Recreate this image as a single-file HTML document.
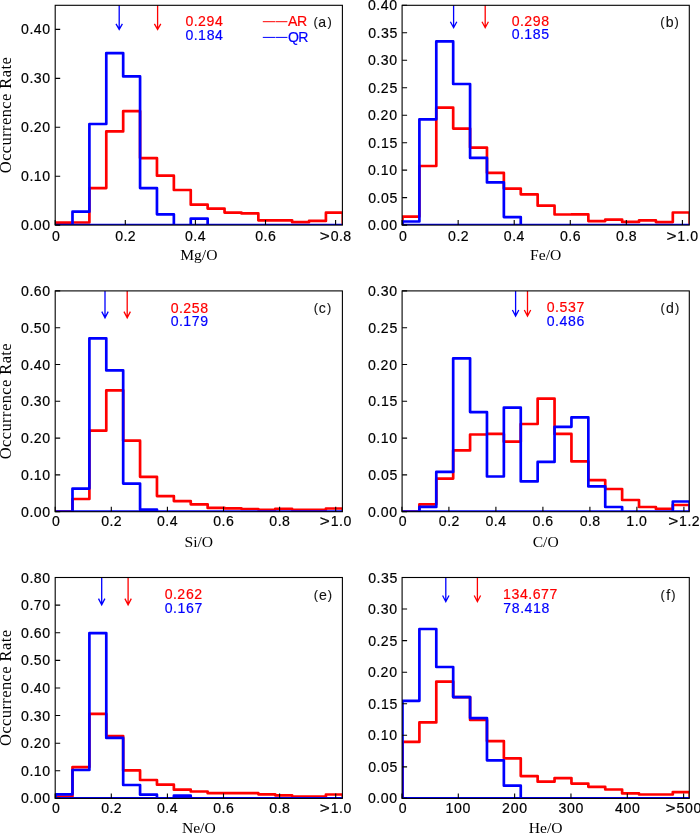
<!DOCTYPE html>
<html><head><meta charset="utf-8"><style>
html,body{margin:0;padding:0;background:#fff;width:700px;height:835px;overflow:hidden}
svg{display:block;will-change:transform}
text{font-family:"Liberation Sans",sans-serif}
.s{font-family:"Liberation Serif",serif}
</style></head><body>
<svg width="700" height="835" viewBox="0 0 700 835">
<rect x="0" y="0" width="700" height="835" fill="#fff"/>
<clipPath id="ca"><rect x="55.2" y="5.3" width="287.2" height="219.8"/></clipPath>
<g clip-path="url(#ca)" fill="none" stroke-width="2.7" stroke-linejoin="round">
<path d="M55.6,225.1 L55.6,222.7 L72.49,222.7 L72.49,222.5 L89.39,222.5 L89.39,188.1 L106.28,188.1 L106.28,131.4 L123.18,131.4 L123.18,111.1 L140.07,111.1 L140.07,158.1 L156.96,158.1 L156.96,175.7 L173.86,175.7 L173.86,190 L190.75,190 L190.75,204.7 L207.65,204.7 L207.65,208.6 L224.54,208.6 L224.54,212.6 L241.44,212.6 L241.44,213.4 L258.33,213.4 L258.33,220.3 L275.22,220.3 L275.22,220.3 L292.12,220.3 L292.12,222.2 L309.01,222.2 L309.01,220.9 L325.91,220.9 L325.91,212.7 L342.8,212.7 L342.8,225.1" stroke="#ff0000"/>
<path d="M55.6,225.1 L55.6,225.1 L72.49,225.1 L72.49,211.7 L89.39,211.7 L89.39,124 L106.28,124 L106.28,53.1 L123.18,53.1 L123.18,76.4 L140.07,76.4 L140.07,188.1 L156.96,188.1 L156.96,214.3 L173.86,214.3 L173.86,225.1 L190.75,225.1 L190.75,218.6 L207.65,218.6 L207.65,225.1 L224.54,225.1 L224.54,225.1 L241.44,225.1 L241.44,225.1 L258.33,225.1 L258.33,225.1 L275.22,225.1 L275.22,225.1 L292.12,225.1 L292.12,225.1 L309.01,225.1 L309.01,225.1 L325.91,225.1 L325.91,225.1 L342.8,225.1 L342.8,225.1 Z" stroke="#0000ff"/>
</g>
<path d="M119.2,5.3 V29.4 M116,23.9 L119.2,29.4 L122.4,23.9" stroke="#0000ff" stroke-width="1.3" fill="none"/>
<path d="M157.6,5.3 V29.4 M154.4,23.9 L157.6,29.4 L160.8,23.9" stroke="#ff0000" stroke-width="1.3" fill="none"/>
<rect x="55.2" y="5.3" width="287.2" height="219.8" fill="none" stroke="#000" stroke-width="1.1"/>
<path d="M55.2,225.1 V220.1 M125.3,225.1 V220.1 M195.4,225.1 V220.1 M265.5,225.1 V220.1 M335.6,225.1 V220.1 M55.2,225.1 H60.2 M55.2,176.18 H60.2 M55.2,127.26 H60.2 M55.2,78.34 H60.2 M55.2,29.42 H60.2" stroke="#000" stroke-width="1.1" fill="none"/>
<text x="52.08" y="241" font-size="14.1" fill="#000" stroke="#000" stroke-width="0.18">0</text>
<text x="115.24 123.56 127.79" y="241" font-size="14.1" fill="#000" stroke="#000" stroke-width="0.18">0.2</text>
<text x="185.05 193.37 197.77" y="241" font-size="14.1" fill="#000" stroke="#000" stroke-width="0.18">0.4</text>
<text x="255.2 263.52 267.92" y="241" font-size="14.1" fill="#000" stroke="#000" stroke-width="0.18">0.6</text>
<text x="330.65 338.97 343.37" y="241" font-size="14.1" fill="#000" stroke="#000" stroke-width="0.18">0.8</text><text transform="translate(319.72,241) scale(1.22,1)" x="0" y="0" font-size="14.1" fill="#000" stroke="#000" stroke-width="0.18">&gt;</text>
<text x="21.12 29.44 33.84 42.32" y="230.1" font-size="14.1" fill="#000" stroke="#000" stroke-width="0.18">0.00</text>
<text x="21.12 29.44 33.76 42.32" y="181.18" font-size="14.1" fill="#000" stroke="#000" stroke-width="0.18">0.10</text>
<text x="21.12 29.44 33.66 42.32" y="132.26" font-size="14.1" fill="#000" stroke="#000" stroke-width="0.18">0.20</text>
<text x="21.12 29.44 33.86 42.32" y="83.34" font-size="14.1" fill="#000" stroke="#000" stroke-width="0.18">0.30</text>
<text x="21.12 29.44 33.84 42.32" y="34.42" font-size="14.1" fill="#000" stroke="#000" stroke-width="0.18">0.40</text>
<text x="185.44 193.76 197.98 206.6 215.12" y="25.8" font-size="14.1" fill="#ff0000" stroke="#ff0000" stroke-width="0.18">0.294</text>
<text x="185.44 193.76 198.09 206.64 215.12" y="39.5" font-size="14.1" fill="#0000ff" stroke="#0000ff" stroke-width="0.18">0.184</text>
<text x="318.22" y="27" font-size="14.1" fill="#111" stroke="#111" stroke-width="0.12">a</text><text x="313.5" y="26" font-size="12.8" fill="#111" stroke="#111" stroke-width="0.12">(</text><text x="327.52" y="26" font-size="12.8" fill="#111" stroke="#111" stroke-width="0.12">)</text>
<text class="s" x="198.8" y="260" font-size="15.6" text-anchor="middle">Mg/O</text>
<text class="s" transform="translate(11.1,115.2) rotate(-90)" x="0" y="0" font-size="16.5" text-anchor="middle" textLength="116" lengthAdjust="spacing">Occurrence Rate</text>
<clipPath id="cb"><rect x="402.1" y="5.3" width="287.2" height="219.8"/></clipPath>
<g clip-path="url(#cb)" fill="none" stroke-width="2.7" stroke-linejoin="round">
<path d="M402.5,225.1 L402.5,216.6 L419.39,216.6 L419.39,166 L436.29,166 L436.29,107.6 L453.18,107.6 L453.18,128.6 L470.08,128.6 L470.08,147.6 L486.97,147.6 L486.97,172.8 L503.86,172.8 L503.86,188.6 L520.76,188.6 L520.76,194.3 L537.65,194.3 L537.65,205.7 L554.55,205.7 L554.55,214.5 L571.44,214.5 L571.44,214.3 L588.34,214.3 L588.34,221.1 L605.23,221.1 L605.23,219.6 L622.12,219.6 L622.12,221.9 L639.02,221.9 L639.02,220.3 L655.91,220.3 L655.91,222.1 L672.81,222.1 L672.81,212.5 L689.7,212.5 L689.7,225.1" stroke="#ff0000"/>
<path d="M402.5,225.1 L402.5,221.5 L419.39,221.5 L419.39,119.3 L436.29,119.3 L436.29,41.4 L453.18,41.4 L453.18,84 L470.08,84 L470.08,157.9 L486.97,157.9 L486.97,182.4 L503.86,182.4 L503.86,217.1 L520.76,217.1 L520.76,225.1 L537.65,225.1 L537.65,225.1 L554.55,225.1 L554.55,225.1 L571.44,225.1 L571.44,225.1 L588.34,225.1 L588.34,225.1 L605.23,225.1 L605.23,225.1 L622.12,225.1 L622.12,225.1 L639.02,225.1 L639.02,225.1 L655.91,225.1 L655.91,225.1 L672.81,225.1 L672.81,225.1 L689.7,225.1 L689.7,225.1 Z" stroke="#0000ff"/>
</g>
<path d="M453.6,5.3 V27.7 M450.4,21.8 L453.6,27.7 L456.8,21.8" stroke="#0000ff" stroke-width="1.3" fill="none"/>
<path d="M485.2,5.3 V27.7 M482,21.8 L485.2,27.7 L488.4,21.8" stroke="#ff0000" stroke-width="1.3" fill="none"/>
<rect x="402.1" y="5.3" width="287.2" height="219.8" fill="none" stroke="#000" stroke-width="1.1"/>
<path d="M402.1,225.1 V220.1 M458.16,225.1 V220.1 M514.22,225.1 V220.1 M570.28,225.1 V220.1 M626.34,225.1 V220.1 M682.4,225.1 V220.1 M402.1,225.1 H407.1 M402.1,197.62 H407.1 M402.1,170.15 H407.1 M402.1,142.68 H407.1 M402.1,115.2 H407.1 M402.1,87.72 H407.1 M402.1,60.25 H407.1 M402.1,32.78 H407.1 M402.1,5.3 H407.1" stroke="#000" stroke-width="1.1" fill="none"/>
<text x="398.98" y="241" font-size="14.1" fill="#000" stroke="#000" stroke-width="0.18">0</text>
<text x="448.1 456.42 460.65" y="241" font-size="14.1" fill="#000" stroke="#000" stroke-width="0.18">0.2</text>
<text x="503.87 512.19 516.59" y="241" font-size="14.1" fill="#000" stroke="#000" stroke-width="0.18">0.4</text>
<text x="559.98 568.3 572.7" y="241" font-size="14.1" fill="#000" stroke="#000" stroke-width="0.18">0.6</text>
<text x="616.07 624.39 628.79" y="241" font-size="14.1" fill="#000" stroke="#000" stroke-width="0.18">0.8</text>
<text x="677.37 685.76 690.16" y="241" font-size="14.1" fill="#000" stroke="#000" stroke-width="0.18">1.0</text><text transform="translate(666.51,241) scale(1.22,1)" x="0" y="0" font-size="14.1" fill="#000" stroke="#000" stroke-width="0.18">&gt;</text>
<text x="368.02 376.34 380.74 389.22" y="230.1" font-size="14.1" fill="#000" stroke="#000" stroke-width="0.18">0.00</text>
<text x="368.3 376.62 381.02 389.45" y="202.62" font-size="14.1" fill="#000" stroke="#000" stroke-width="0.18">0.05</text>
<text x="368.02 376.34 380.66 389.22" y="175.15" font-size="14.1" fill="#000" stroke="#000" stroke-width="0.18">0.10</text>
<text x="368.3 376.62 380.94 389.45" y="147.68" font-size="14.1" fill="#000" stroke="#000" stroke-width="0.18">0.15</text>
<text x="368.02 376.34 380.56 389.22" y="120.2" font-size="14.1" fill="#000" stroke="#000" stroke-width="0.18">0.20</text>
<text x="368.3 376.62 380.84 389.45" y="92.72" font-size="14.1" fill="#000" stroke="#000" stroke-width="0.18">0.25</text>
<text x="368.02 376.34 380.76 389.22" y="65.25" font-size="14.1" fill="#000" stroke="#000" stroke-width="0.18">0.30</text>
<text x="368.3 376.62 381.04 389.45" y="37.78" font-size="14.1" fill="#000" stroke="#000" stroke-width="0.18">0.35</text>
<text x="368.02 376.34 380.74 389.22" y="10.3" font-size="14.1" fill="#000" stroke="#000" stroke-width="0.18">0.40</text>
<text x="511.64 519.96 524.18 532.8 541.33" y="25.8" font-size="14.1" fill="#ff0000" stroke="#ff0000" stroke-width="0.18">0.298</text>
<text x="511.64 519.96 524.29 532.84 541.27" y="39.2" font-size="14.1" fill="#0000ff" stroke="#0000ff" stroke-width="0.18">0.185</text>
<text x="665.65" y="26.9" font-size="14.1" fill="#111" stroke="#111" stroke-width="0.12">b</text><text x="660.2" y="25.9" font-size="12.8" fill="#111" stroke="#111" stroke-width="0.12">(</text><text x="674.51" y="25.9" font-size="12.8" fill="#111" stroke="#111" stroke-width="0.12">)</text>
<text class="s" x="545.7" y="260" font-size="15.6" text-anchor="middle">Fe/O</text>
<clipPath id="cc"><rect x="55.2" y="290.9" width="287.2" height="220.8"/></clipPath>
<g clip-path="url(#cc)" fill="none" stroke-width="2.7" stroke-linejoin="round">
<path d="M55.6,511.7 L55.6,511.7 L72.49,511.7 L72.49,499 L89.39,499 L89.39,430.7 L106.28,430.7 L106.28,390.3 L123.18,390.3 L123.18,440.7 L140.07,440.7 L140.07,476.8 L156.96,476.8 L156.96,496.1 L173.86,496.1 L173.86,501.1 L190.75,501.1 L190.75,504.3 L207.65,504.3 L207.65,507.9 L224.54,507.9 L224.54,508.3 L241.44,508.3 L241.44,509 L258.33,509 L258.33,509.8 L275.22,509.8 L275.22,508.9 L292.12,508.9 L292.12,509.8 L309.01,509.8 L309.01,509.8 L325.91,509.8 L325.91,508.5 L342.8,508.5 L342.8,511.7" stroke="#ff0000"/>
<path d="M55.6,511.7 L55.6,511.7 L72.49,511.7 L72.49,488.6 L89.39,488.6 L89.39,338.3 L106.28,338.3 L106.28,370.4 L123.18,370.4 L123.18,483.6 L140.07,483.6 L140.07,509.5 L156.96,509.5 L156.96,511.7 L173.86,511.7 L173.86,511.7 L190.75,511.7 L190.75,511.7 L207.65,511.7 L207.65,511.7 L224.54,511.7 L224.54,511.7 L241.44,511.7 L241.44,511.7 L258.33,511.7 L258.33,511.7 L275.22,511.7 L275.22,511.7 L292.12,511.7 L292.12,511.7 L309.01,511.7 L309.01,511.7 L325.91,511.7 L325.91,511.7 L342.8,511.7 L342.8,511.7 Z" stroke="#0000ff"/>
</g>
<path d="M105,290.9 V317.9 M101.8,311.6 L105,317.9 L108.2,311.6" stroke="#0000ff" stroke-width="1.3" fill="none"/>
<path d="M127.2,290.9 V317.9 M124,311.6 L127.2,317.9 L130.4,311.6" stroke="#ff0000" stroke-width="1.3" fill="none"/>
<rect x="55.2" y="290.9" width="287.2" height="220.8" fill="none" stroke="#000" stroke-width="1.1"/>
<path d="M55.2,511.7 V506.7 M111.3,511.7 V506.7 M167.4,511.7 V506.7 M223.5,511.7 V506.7 M279.6,511.7 V506.7 M335.7,511.7 V506.7 M55.2,511.7 H60.2 M55.2,474.9 H60.2 M55.2,438.1 H60.2 M55.2,401.3 H60.2 M55.2,364.5 H60.2 M55.2,327.7 H60.2 M55.2,290.9 H60.2" stroke="#000" stroke-width="1.1" fill="none"/>
<text x="52.08" y="526" font-size="14.1" fill="#000" stroke="#000" stroke-width="0.18">0</text>
<text x="101.24 109.56 113.79" y="526" font-size="14.1" fill="#000" stroke="#000" stroke-width="0.18">0.2</text>
<text x="157.05 165.37 169.77" y="526" font-size="14.1" fill="#000" stroke="#000" stroke-width="0.18">0.4</text>
<text x="213.2 221.52 225.92" y="526" font-size="14.1" fill="#000" stroke="#000" stroke-width="0.18">0.6</text>
<text x="269.33 277.65 282.05" y="526" font-size="14.1" fill="#000" stroke="#000" stroke-width="0.18">0.8</text>
<text x="330.67 339.06 343.46" y="526" font-size="14.1" fill="#000" stroke="#000" stroke-width="0.18">1.0</text><text transform="translate(319.81,526) scale(1.22,1)" x="0" y="0" font-size="14.1" fill="#000" stroke="#000" stroke-width="0.18">&gt;</text>
<text x="21.12 29.44 33.84 42.32" y="516.7" font-size="14.1" fill="#000" stroke="#000" stroke-width="0.18">0.00</text>
<text x="21.12 29.44 33.76 42.32" y="479.9" font-size="14.1" fill="#000" stroke="#000" stroke-width="0.18">0.10</text>
<text x="21.12 29.44 33.66 42.32" y="443.1" font-size="14.1" fill="#000" stroke="#000" stroke-width="0.18">0.20</text>
<text x="21.12 29.44 33.86 42.32" y="406.3" font-size="14.1" fill="#000" stroke="#000" stroke-width="0.18">0.30</text>
<text x="21.12 29.44 33.84 42.32" y="369.5" font-size="14.1" fill="#000" stroke="#000" stroke-width="0.18">0.40</text>
<text x="21.12 29.44 33.79 42.32" y="332.7" font-size="14.1" fill="#000" stroke="#000" stroke-width="0.18">0.50</text>
<text x="21.12 29.44 33.84 42.32" y="295.9" font-size="14.1" fill="#000" stroke="#000" stroke-width="0.18">0.60</text>
<text x="170.64 178.96 183.18 191.79 200.33" y="312.6" font-size="14.1" fill="#ff0000" stroke="#ff0000" stroke-width="0.18">0.258</text>
<text x="170.64 178.96 183.29 191.82 200.28" y="326.1" font-size="14.1" fill="#0000ff" stroke="#0000ff" stroke-width="0.18">0.179</text>
<text x="318.84" y="313.1" font-size="14.1" fill="#111" stroke="#111" stroke-width="0.12">c</text><text x="313.8" y="312.1" font-size="12.8" fill="#111" stroke="#111" stroke-width="0.12">(</text><text x="326.98" y="312.1" font-size="12.8" fill="#111" stroke="#111" stroke-width="0.12">)</text>
<text class="s" x="198.8" y="546.6" font-size="15.6" text-anchor="middle">Si/O</text>
<text class="s" transform="translate(11.1,401.3) rotate(-90)" x="0" y="0" font-size="16.5" text-anchor="middle" textLength="116" lengthAdjust="spacing">Occurrence Rate</text>
<clipPath id="cd"><rect x="402.1" y="290.9" width="287.2" height="220.8"/></clipPath>
<g clip-path="url(#cd)" fill="none" stroke-width="2.7" stroke-linejoin="round">
<path d="M402.5,511.7 L402.5,511.7 L419.39,511.7 L419.39,504.3 L436.29,504.3 L436.29,478.6 L453.18,478.6 L453.18,450.4 L470.08,450.4 L470.08,434.5 L486.97,434.5 L486.97,433.9 L503.86,433.9 L503.86,441.7 L520.76,441.7 L520.76,424 L537.65,424 L537.65,398.6 L554.55,398.6 L554.55,433.9 L571.44,433.9 L571.44,461.4 L588.34,461.4 L588.34,480.2 L605.23,480.2 L605.23,489 L622.12,489 L622.12,500 L639.02,500 L639.02,507 L655.91,507 L655.91,508.9 L672.81,508.9 L672.81,505 L689.7,505 L689.7,511.7" stroke="#ff0000"/>
<path d="M402.5,511.7 L402.5,511.7 L419.39,511.7 L419.39,506.9 L436.29,506.9 L436.29,471.9 L453.18,471.9 L453.18,358.3 L470.08,358.3 L470.08,412.1 L486.97,412.1 L486.97,476.5 L503.86,476.5 L503.86,407.6 L520.76,407.6 L520.76,481.4 L537.65,481.4 L537.65,461.9 L554.55,461.9 L554.55,426.8 L571.44,426.8 L571.44,417.4 L588.34,417.4 L588.34,486.4 L605.23,486.4 L605.23,507 L622.12,507 L622.12,511.7 L639.02,511.7 L639.02,511.7 L655.91,511.7 L655.91,511.7 L672.81,511.7 L672.81,501.5 L689.7,501.5 L689.7,511.7 Z" stroke="#0000ff"/>
</g>
<path d="M515.6,290.9 V316 M512.4,310 L515.6,316 L518.8,310" stroke="#0000ff" stroke-width="1.3" fill="none"/>
<path d="M527.5,290.9 V316 M524.3,310 L527.5,316 L530.7,310" stroke="#ff0000" stroke-width="1.3" fill="none"/>
<rect x="402.1" y="290.9" width="287.2" height="220.8" fill="none" stroke="#000" stroke-width="1.1"/>
<path d="M401.9,511.7 V506.7 M448.9,511.7 V506.7 M495.9,511.7 V506.7 M542.9,511.7 V506.7 M589.9,511.7 V506.7 M636.9,511.7 V506.7 M683.9,511.7 V506.7 M402.1,511.7 H407.1 M402.1,474.9 H407.1 M402.1,438.1 H407.1 M402.1,401.3 H407.1 M402.1,364.5 H407.1 M402.1,327.7 H407.1 M402.1,290.9 H407.1" stroke="#000" stroke-width="1.1" fill="none"/>
<text x="398.78" y="526" font-size="14.1" fill="#000" stroke="#000" stroke-width="0.18">0</text>
<text x="438.84 447.16 451.39" y="526" font-size="14.1" fill="#000" stroke="#000" stroke-width="0.18">0.2</text>
<text x="485.55 493.87 498.27" y="526" font-size="14.1" fill="#000" stroke="#000" stroke-width="0.18">0.4</text>
<text x="532.6 540.92 545.32" y="526" font-size="14.1" fill="#000" stroke="#000" stroke-width="0.18">0.6</text>
<text x="579.63 587.95 592.35" y="526" font-size="14.1" fill="#000" stroke="#000" stroke-width="0.18">0.8</text>
<text x="626.25 634.65 639.05" y="526" font-size="14.1" fill="#000" stroke="#000" stroke-width="0.18">1.0</text>
<text x="679.09 687.48 691.71" y="526" font-size="14.1" fill="#000" stroke="#000" stroke-width="0.18">1.2</text><text transform="translate(668.23,526) scale(1.22,1)" x="0" y="0" font-size="14.1" fill="#000" stroke="#000" stroke-width="0.18">&gt;</text>
<text x="368.02 376.34 380.74 389.22" y="516.7" font-size="14.1" fill="#000" stroke="#000" stroke-width="0.18">0.00</text>
<text x="368.3 376.62 381.02 389.45" y="479.9" font-size="14.1" fill="#000" stroke="#000" stroke-width="0.18">0.05</text>
<text x="368.02 376.34 380.66 389.22" y="443.1" font-size="14.1" fill="#000" stroke="#000" stroke-width="0.18">0.10</text>
<text x="368.3 376.62 380.94 389.45" y="406.3" font-size="14.1" fill="#000" stroke="#000" stroke-width="0.18">0.15</text>
<text x="368.02 376.34 380.56 389.22" y="369.5" font-size="14.1" fill="#000" stroke="#000" stroke-width="0.18">0.20</text>
<text x="368.3 376.62 380.84 389.45" y="332.7" font-size="14.1" fill="#000" stroke="#000" stroke-width="0.18">0.25</text>
<text x="368.02 376.34 380.76 389.22" y="295.9" font-size="14.1" fill="#000" stroke="#000" stroke-width="0.18">0.30</text>
<text x="546.74 555.06 559.41 567.96 576.4" y="312.2" font-size="14.1" fill="#ff0000" stroke="#ff0000" stroke-width="0.18">0.537</text>
<text x="546.74 555.06 559.46 567.94 576.43" y="325.5" font-size="14.1" fill="#0000ff" stroke="#0000ff" stroke-width="0.18">0.486</text>
<text x="665.89" y="313.1" font-size="14.1" fill="#111" stroke="#111" stroke-width="0.12">d</text><text x="660.6" y="312.1" font-size="12.8" fill="#111" stroke="#111" stroke-width="0.12">(</text><text x="674.91" y="312.1" font-size="12.8" fill="#111" stroke="#111" stroke-width="0.12">)</text>
<text class="s" x="545.7" y="546.6" font-size="15.6" text-anchor="middle">C/O</text>
<clipPath id="ce"><rect x="55.2" y="577.5" width="287.2" height="220.9"/></clipPath>
<g clip-path="url(#ce)" fill="none" stroke-width="2.7" stroke-linejoin="round">
<path d="M55.6,798.4 L55.6,796.5 L72.49,796.5 L72.49,767.1 L89.39,767.1 L89.39,713.9 L106.28,713.9 L106.28,736.1 L123.18,736.1 L123.18,770.4 L140.07,770.4 L140.07,780 L156.96,780 L156.96,784.7 L173.86,784.7 L173.86,789.7 L190.75,789.7 L190.75,791.5 L207.65,791.5 L207.65,793.2 L224.54,793.2 L224.54,793.2 L241.44,793.2 L241.44,793.2 L258.33,793.2 L258.33,794.3 L275.22,794.3 L275.22,795.3 L292.12,795.3 L292.12,796.6 L309.01,796.6 L309.01,796.6 L325.91,796.6 L325.91,794.5 L342.8,794.5 L342.8,798.4" stroke="#ff0000"/>
<path d="M55.6,798.4 L55.6,794.3 L72.49,794.3 L72.49,770 L89.39,770 L89.39,633.1 L106.28,633.1 L106.28,737.9 L123.18,737.9 L123.18,785 L140.07,785 L140.07,794.7 L156.96,794.7 L156.96,798.4 L173.86,798.4 L173.86,795.7 L190.75,795.7 L190.75,798.4 L207.65,798.4 L207.65,798.4 L224.54,798.4 L224.54,798.4 L241.44,798.4 L241.44,798.4 L258.33,798.4 L258.33,798.4 L275.22,798.4 L275.22,798.4 L292.12,798.4 L292.12,798.4 L309.01,798.4 L309.01,798.4 L325.91,798.4 L325.91,798.4 L342.8,798.4 L342.8,798.4 Z" stroke="#0000ff"/>
</g>
<path d="M101.7,577.5 V604.9 M98.5,598.6 L101.7,604.9 L104.9,598.6" stroke="#0000ff" stroke-width="1.3" fill="none"/>
<path d="M128.1,577.5 V604.9 M124.9,598.6 L128.1,604.9 L131.3,598.6" stroke="#ff0000" stroke-width="1.3" fill="none"/>
<rect x="55.2" y="577.5" width="287.2" height="220.9" fill="none" stroke="#000" stroke-width="1.1"/>
<path d="M55.2,798.4 V793.4 M111.3,798.4 V793.4 M167.4,798.4 V793.4 M223.5,798.4 V793.4 M279.6,798.4 V793.4 M335.7,798.4 V793.4 M55.2,798.4 H60.2 M55.2,770.79 H60.2 M55.2,743.18 H60.2 M55.2,715.57 H60.2 M55.2,687.96 H60.2 M55.2,660.35 H60.2 M55.2,632.74 H60.2 M55.2,605.13 H60.2 M55.2,577.52 H60.2" stroke="#000" stroke-width="1.1" fill="none"/>
<text x="52.08" y="813" font-size="14.1" fill="#000" stroke="#000" stroke-width="0.18">0</text>
<text x="101.24 109.56 113.79" y="813" font-size="14.1" fill="#000" stroke="#000" stroke-width="0.18">0.2</text>
<text x="157.05 165.37 169.77" y="813" font-size="14.1" fill="#000" stroke="#000" stroke-width="0.18">0.4</text>
<text x="213.2 221.52 225.92" y="813" font-size="14.1" fill="#000" stroke="#000" stroke-width="0.18">0.6</text>
<text x="269.33 277.65 282.05" y="813" font-size="14.1" fill="#000" stroke="#000" stroke-width="0.18">0.8</text>
<text x="330.67 339.06 343.46" y="813" font-size="14.1" fill="#000" stroke="#000" stroke-width="0.18">1.0</text><text transform="translate(319.81,813) scale(1.22,1)" x="0" y="0" font-size="14.1" fill="#000" stroke="#000" stroke-width="0.18">&gt;</text>
<text x="21.12 29.44 33.84 42.32" y="803.4" font-size="14.1" fill="#000" stroke="#000" stroke-width="0.18">0.00</text>
<text x="21.12 29.44 33.76 42.32" y="775.79" font-size="14.1" fill="#000" stroke="#000" stroke-width="0.18">0.10</text>
<text x="21.12 29.44 33.66 42.32" y="748.18" font-size="14.1" fill="#000" stroke="#000" stroke-width="0.18">0.20</text>
<text x="21.12 29.44 33.86 42.32" y="720.57" font-size="14.1" fill="#000" stroke="#000" stroke-width="0.18">0.30</text>
<text x="21.12 29.44 33.84 42.32" y="692.96" font-size="14.1" fill="#000" stroke="#000" stroke-width="0.18">0.40</text>
<text x="21.12 29.44 33.79 42.32" y="665.35" font-size="14.1" fill="#000" stroke="#000" stroke-width="0.18">0.50</text>
<text x="21.12 29.44 33.84 42.32" y="637.74" font-size="14.1" fill="#000" stroke="#000" stroke-width="0.18">0.60</text>
<text x="21.12 29.44 33.81 42.32" y="610.13" font-size="14.1" fill="#000" stroke="#000" stroke-width="0.18">0.70</text>
<text x="21.12 29.44 33.84 42.32" y="582.52" font-size="14.1" fill="#000" stroke="#000" stroke-width="0.18">0.80</text>
<text x="164.74 173.06 177.28 185.94 194.25" y="599.2" font-size="14.1" fill="#ff0000" stroke="#ff0000" stroke-width="0.18">0.262</text>
<text x="164.74 173.06 177.39 185.94 194.4" y="612.9" font-size="14.1" fill="#0000ff" stroke="#0000ff" stroke-width="0.18">0.167</text>
<text x="319.06" y="599.7" font-size="14.1" fill="#111" stroke="#111" stroke-width="0.12">e</text><text x="313.8" y="598.7" font-size="12.8" fill="#111" stroke="#111" stroke-width="0.12">(</text><text x="327.85" y="598.7" font-size="12.8" fill="#111" stroke="#111" stroke-width="0.12">)</text>
<text class="s" x="198.8" y="833.3" font-size="15.6" text-anchor="middle">Ne/O</text>
<text class="s" transform="translate(11.1,687.95) rotate(-90)" x="0" y="0" font-size="16.5" text-anchor="middle" textLength="116" lengthAdjust="spacing">Occurrence Rate</text>
<clipPath id="cf"><rect x="402.1" y="577.5" width="287.2" height="220.9"/></clipPath>
<g clip-path="url(#cf)" fill="none" stroke-width="2.7" stroke-linejoin="round">
<path d="M402.5,798.4 L402.5,741.9 L419.39,741.9 L419.39,722.4 L436.29,722.4 L436.29,681.6 L453.18,681.6 L453.18,697.1 L470.08,697.1 L470.08,720 L486.97,720 L486.97,741.1 L503.86,741.1 L503.86,758.3 L520.76,758.3 L520.76,776.1 L537.65,776.1 L537.65,781.7 L554.55,781.7 L554.55,778.1 L571.44,778.1 L571.44,783.6 L588.34,783.6 L588.34,786.8 L605.23,786.8 L605.23,789.5 L622.12,789.5 L622.12,793.4 L639.02,793.4 L639.02,794.5 L655.91,794.5 L655.91,794.5 L672.81,794.5 L672.81,792.1 L689.7,792.1 L689.7,798.4" stroke="#ff0000"/>
<path d="M402.5,798.4 L402.5,700.8 L419.39,700.8 L419.39,629 L436.29,629 L436.29,667 L453.18,667 L453.18,697.1 L470.08,697.1 L470.08,718.1 L486.97,718.1 L486.97,760.3 L503.86,760.3 L503.86,785.7 L520.76,785.7 L520.76,798.4 L537.65,798.4 L537.65,798.4 L554.55,798.4 L554.55,798.4 L571.44,798.4 L571.44,798.4 L588.34,798.4 L588.34,798.4 L605.23,798.4 L605.23,798.4 L622.12,798.4 L622.12,798.4 L639.02,798.4 L639.02,798.4 L655.91,798.4 L655.91,798.4 L672.81,798.4 L672.81,798.4 L689.7,798.4 L689.7,798.4 Z" stroke="#0000ff"/>
</g>
<path d="M445.8,577.5 V601.7 M442.6,595.5 L445.8,601.7 L449,595.5" stroke="#0000ff" stroke-width="1.3" fill="none"/>
<path d="M477.4,577.5 V601.7 M474.2,595.5 L477.4,601.7 L480.6,595.5" stroke="#ff0000" stroke-width="1.3" fill="none"/>
<rect x="402.1" y="577.5" width="287.2" height="220.9" fill="none" stroke="#000" stroke-width="1.1"/>
<path d="M401.97,798.4 V793.4 M458.3,798.4 V793.4 M514.63,798.4 V793.4 M570.96,798.4 V793.4 M627.29,798.4 V793.4 M683.62,798.4 V793.4 M402.1,798.4 H407.1 M402.1,766.85 H407.1 M402.1,735.29 H407.1 M402.1,703.74 H407.1 M402.1,672.18 H407.1 M402.1,640.62 H407.1 M402.1,609.07 H407.1 M402.1,577.51 H407.1" stroke="#000" stroke-width="1.1" fill="none"/>
<text x="398.85" y="813" font-size="14.1" fill="#000" stroke="#000" stroke-width="0.18">0</text>
<text x="445.53 454.09 462.57" y="813" font-size="14.1" fill="#000" stroke="#000" stroke-width="0.18">100</text>
<text x="502 510.66 519.14" y="813" font-size="14.1" fill="#000" stroke="#000" stroke-width="0.18">200</text>
<text x="558.51 566.97 575.45" y="813" font-size="14.1" fill="#000" stroke="#000" stroke-width="0.18">300</text>
<text x="615 623.48 631.97" y="813" font-size="14.1" fill="#000" stroke="#000" stroke-width="0.18">400</text>
<text x="676.48 685.02 693.5" y="813" font-size="14.1" fill="#000" stroke="#000" stroke-width="0.18">500</text><text transform="translate(665.6,813) scale(1.22,1)" x="0" y="0" font-size="14.1" fill="#000" stroke="#000" stroke-width="0.18">&gt;</text>
<text x="368.02 376.34 380.74 389.22" y="803.4" font-size="14.1" fill="#000" stroke="#000" stroke-width="0.18">0.00</text>
<text x="368.3 376.62 381.02 389.45" y="771.85" font-size="14.1" fill="#000" stroke="#000" stroke-width="0.18">0.05</text>
<text x="368.02 376.34 380.66 389.22" y="740.29" font-size="14.1" fill="#000" stroke="#000" stroke-width="0.18">0.10</text>
<text x="368.3 376.62 380.94 389.45" y="708.74" font-size="14.1" fill="#000" stroke="#000" stroke-width="0.18">0.15</text>
<text x="368.02 376.34 380.56 389.22" y="677.18" font-size="14.1" fill="#000" stroke="#000" stroke-width="0.18">0.20</text>
<text x="368.3 376.62 380.84 389.45" y="645.62" font-size="14.1" fill="#000" stroke="#000" stroke-width="0.18">0.25</text>
<text x="368.02 376.34 380.76 389.22" y="614.07" font-size="14.1" fill="#000" stroke="#000" stroke-width="0.18">0.30</text>
<text x="368.3 376.62 381.04 389.45" y="582.51" font-size="14.1" fill="#000" stroke="#000" stroke-width="0.18">0.35</text>
<text x="502.88 511.45 519.92 528.24 532.64 541.1 549.58" y="599.3" font-size="14.1" fill="#ff0000" stroke="#ff0000" stroke-width="0.18">134.677</text>
<text x="503.3 511.81 520.13 524.53 532.94 541.49" y="612.6" font-size="14.1" fill="#0000ff" stroke="#0000ff" stroke-width="0.18">78.418</text>
<text x="666.21" y="599.7" font-size="14.1" fill="#111" stroke="#111" stroke-width="0.12">f</text><text x="660.6" y="598.7" font-size="12.8" fill="#111" stroke="#111" stroke-width="0.12">(</text><text x="671.14" y="598.7" font-size="12.8" fill="#111" stroke="#111" stroke-width="0.12">)</text>
<text class="s" x="545.7" y="833.3" font-size="15.6" text-anchor="middle">He/O</text>
<path d="M262.8,21.7 H275.1 M275.5,21.7 H287.4" stroke="#ff0000" stroke-width="1"/>
<text x="287.97 296.99" y="25.9" font-size="14.1" fill="#ff0000" stroke="#ff0000" stroke-width="0.18">AR</text>
<path d="M262.8,37.4 H275.1 M275.5,37.4 H287.4" stroke="#0000ff" stroke-width="1"/>
<text x="287.88 298.36" y="41.6" font-size="14.1" fill="#0000ff" stroke="#0000ff" stroke-width="0.18">QR</text>
</svg>
</body></html>
